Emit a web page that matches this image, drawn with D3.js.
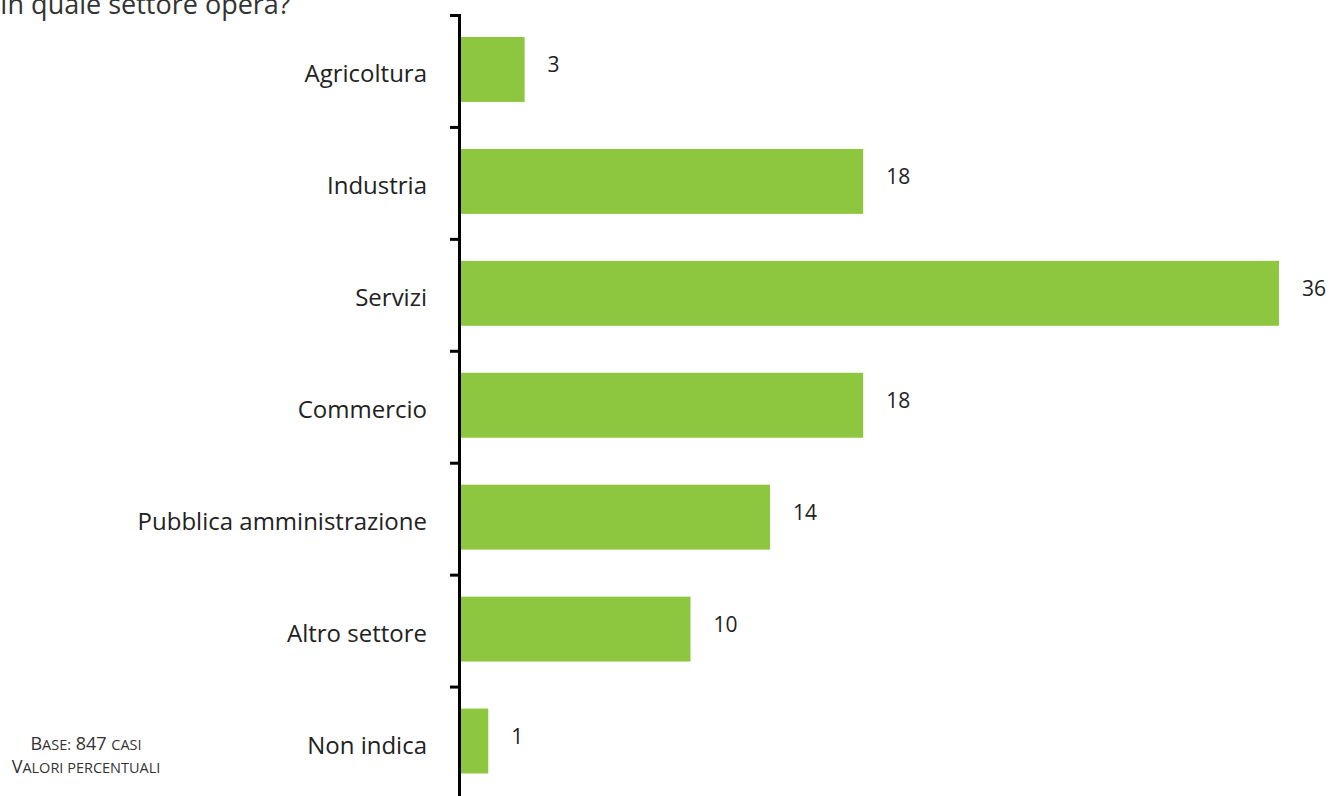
<!DOCTYPE html>
<html><head><meta charset="utf-8">
<script src="https://cdn.jsdelivr.net/npm/d3@7"></script>
<style>
html,body{margin:0;padding:0;background:#fff;overflow:hidden}
text{font-family:"Open Sans",sans-serif}
</style></head>
<body>
<svg id="c" width="1336" height="796"></svg>
<script>
const categories = ["Agricoltura","Industria","Servizi","Commercio","Pubblica amministrazione","Altro settore","Non indica"];
const values = [2.8, 17.7, 36, 17.7, 13.6, 10.1, 1.2];
const labels = ["3","18","36","18","14","10","1"];
const title = "In quale settore opera?";
// note parts: [text, isLarge]
const note1 = [["B",true],["ASE:",false],[" 847 ",true],["CASI",false]];
const note2 = [["V",true],["ALORI PERCENTUALI",false]];

const svg = d3.select("#c");
const x0 = 461, y0 = 15.5, y1 = 799;
const x = d3.scaleLinear().domain([0, 36]).range([x0, 1279]);
const y = d3.scaleBand().domain(categories).range([y0, y1]).paddingInner(0.42).paddingOuter(0.21);
const step = y.step();
const mid = d => y(d) - 2 + y.bandwidth()/2;

svg.append("text").attr("x", 0).attr("y", 14).attr("font-size", 27).attr("fill", "#333").text(title);

svg.selectAll("rect.bar").data(categories).join("rect")
  .attr("class","bar")
  .attr("x", x(0)).attr("y", d => y(d) - 2)
  .attr("width", (d,i) => x(values[i]) - x(0))
  .attr("height", y.bandwidth())
  .attr("fill", "#8dc63f");

svg.selectAll("text.val").data(categories).join("text")
  .attr("class","val")
  .attr("x", (d,i) => x(values[i]) + 23)
  .attr("y", d => mid(d) + 3)
  .attr("font-size", 21).attr("fill", "#222")
  .text((d,i) => labels[i]);

svg.selectAll("text.cat").data(categories).join("text")
  .attr("class","cat")
  .attr("x", 427)
  .attr("y", d => mid(d) + 13)
  .attr("text-anchor","end")
  .attr("font-size", 24).attr("fill", "#222")
  .text(d => d);

svg.append("line").attr("x1", 459.5).attr("x2", 459.5).attr("y1", y0 - 1.5).attr("y2", 796)
  .attr("stroke", "#000").attr("stroke-width", 3);
svg.selectAll("line.tick").data(categories).join("line")
  .attr("class","tick")
  .attr("x1", 450).attr("x2", 459)
  .attr("y1", d => y(d) - step*0.21).attr("y2", d => y(d) - step*0.21)
  .attr("stroke", "#000").attr("stroke-width", 3);

[note1, note2].forEach((parts,i) => {
  const t = svg.append("text").attr("x", 86).attr("y", 750 + i*23)
    .attr("text-anchor","middle").attr("fill", "#333").style("white-space","pre");
  parts.forEach(p => t.append("tspan").attr("font-size", p[1] ? 18 : 14.5).text(p[0]));
});
</script>
</body></html>
